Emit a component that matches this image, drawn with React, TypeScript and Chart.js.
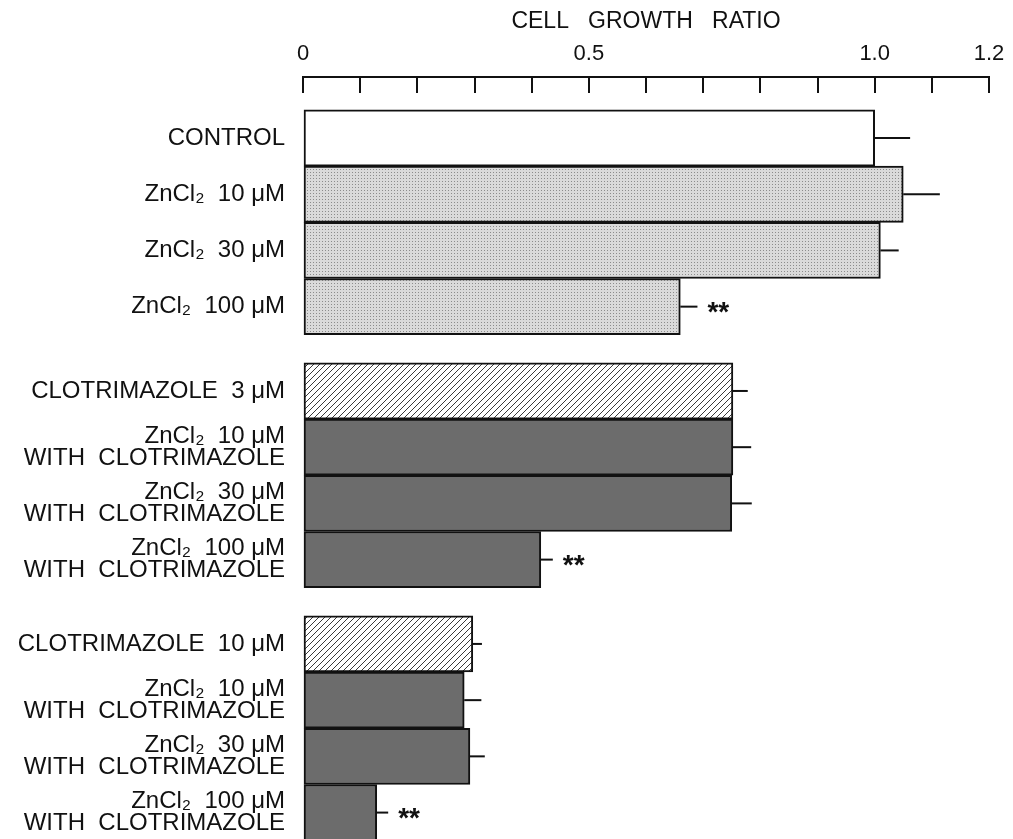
import React, { useEffect, useRef } from 'react';
import { Chart, registerables } from 'chart.js';

Chart.register(...registerables);

const FONT = '"Liberation Sans", Arial, Helvetica, sans-serif';

const categories: (string | string[])[] = [
  'CONTROL',
  'ZnCl₂  10 μM',
  'ZnCl₂  30 μM',
  'ZnCl₂  100 μM',
  'CLOTRIMAZOLE  3 μM',
  ['ZnCl₂  10 μM', 'WITH  CLOTRIMAZOLE'],
  ['ZnCl₂  30 μM', 'WITH  CLOTRIMAZOLE'],
  ['ZnCl₂  100 μM', 'WITH  CLOTRIMAZOLE'],
  'CLOTRIMAZOLE  10 μM',
  ['ZnCl₂  10 μM', 'WITH  CLOTRIMAZOLE'],
  ['ZnCl₂  30 μM', 'WITH  CLOTRIMAZOLE'],
  ['ZnCl₂  100 μM', 'WITH  CLOTRIMAZOLE'],
];

// row slots on the category (y) axis; groups separated by half a slot
const rowPositions = [0, 1, 2, 3, 4.5, 5.5, 6.5, 7.5, 9, 10, 11, 12];

const growthRatio = [1.0, 1.05, 1.01, 0.66, 0.752, 0.752, 0.75, 0.416, 0.297, 0.282, 0.292, 0.129];
const errorValues = [0.062, 0.064, 0.032, 0.03, 0.026, 0.032, 0.035, 0.021, 0.016, 0.03, 0.026, 0.02];
const significance = ['', '', '', '**', '', '', '', '**', '', '', '', '**'];
const fillKinds = ['white', 'stipple', 'stipple', 'stipple', 'hatch', 'dark', 'dark', 'dark', 'hatch', 'dark', 'dark', 'dark'];

const xTickValues = [0, 0.5, 1.0, 1.2];
const xTickLabels = ['0', '0.5', '1.0', '1.2'];

function makeStipple(ctx: CanvasRenderingContext2D): CanvasPattern | string {
  const c = document.createElement('canvas');
  c.width = 3;
  c.height = 3;
  const g = c.getContext('2d')!;
  g.fillStyle = '#dadada';
  g.fillRect(0, 0, 3, 3);
  g.fillStyle = '#8c8c8c';
  g.fillRect(1, 1, 1, 1);
  return ctx.createPattern(c, 'repeat') || '#d0d0d0';
}

function makeHatch(ctx: CanvasRenderingContext2D): CanvasPattern | string {
  const s = 6;
  const c = document.createElement('canvas');
  c.width = s;
  c.height = s;
  const g = c.getContext('2d')!;
  g.fillStyle = '#ffffff';
  g.fillRect(0, 0, s, s);
  g.strokeStyle = '#3a3a3a';
  g.lineWidth = 1;
  g.beginPath();
  g.moveTo(-1, s + 1);
  g.lineTo(s + 1, -1);
  g.moveTo(-1, 1);
  g.lineTo(1, -1);
  g.moveTo(s - 1, s + 1);
  g.lineTo(s + 1, s - 1);
  g.stroke();
  return ctx.createPattern(c, 'repeat') || '#dddddd';
}

const errorBarPlugin = {
  id: 'errorBarsAndStars',
  afterDatasetsDraw(chart: any) {
    const { ctx } = chart;
    const xs = chart.scales.x;
    const meta = chart.getDatasetMeta(0);
    ctx.save();
    ctx.strokeStyle = '#111111';
    ctx.lineWidth = 2;
    meta.data.forEach((el: any, i: number) => {
      const x0 = xs.getPixelForValue(growthRatio[i]);
      const x1 = xs.getPixelForValue(growthRatio[i] + errorValues[i]);
      const y = el.y;
      ctx.beginPath();
      ctx.moveTo(x0, y);
      ctx.lineTo(x1, y);
      ctx.stroke();
      if (significance[i]) {
        ctx.font = `bold 28px ${FONT}`;
        ctx.fillStyle = '#111111';
        ctx.textAlign = 'left';
        ctx.textBaseline = 'alphabetic';
        ctx.fillText(significance[i], x1 + 10, y + 14);
      }
    });
    ctx.restore();
  },
};

export default function App() {
  const canvasRef = useRef<HTMLCanvasElement | null>(null);

  useEffect(() => {
    const canvas = canvasRef.current;
    if (!canvas) return;
    const ctx = canvas.getContext('2d')!;
    const stipple = makeStipple(ctx);
    const hatch = makeHatch(ctx);
    const fills: Record<string, any> = {
      white: '#ffffff',
      stipple,
      hatch,
      dark: '#6c6c6c',
    };

    const chart = new Chart(canvas, {
      type: 'bar',
      data: {
        datasets: [
          {
            data: rowPositions.map((p, i) => ({ x: growthRatio[i], y: p })) as any,
            backgroundColor: fillKinds.map((k) => fills[k]),
            borderColor: '#111111',
            borderWidth: 2,
            borderSkipped: false,
            barPercentage: 1,
            categoryPercentage: 1,
          },
        ],
      },
      options: {
        indexAxis: 'y',
        responsive: false,
        animation: false,
        layout: { padding: { left: 0, right: 24, top: 0, bottom: 0 } },
        plugins: {
          legend: { display: false },
          tooltip: { enabled: false },
        },
        scales: {
          x: {
            type: 'linear',
            position: 'top',
            min: 0,
            max: 1.2,
            afterFit: (scale: any) => {
              scale.height = 77;
              scale.paddingLeft = 0;
              scale.paddingRight = 0;
            },
            grid: {
              display: true,
              drawOnChartArea: false,
              drawTicks: true,
              tickLength: -16,
              color: '#111111',
              lineWidth: 2,
            },
            border: { display: true, color: '#111111', width: 2 },
            ticks: {
              stepSize: 0.1,
              autoSkip: false,
              maxRotation: 0,
              padding: 26,
              color: '#111111',
              font: { family: FONT, size: 22 },
              callback: (value: any) => {
                const idx = xTickValues.findIndex((v) => Math.abs(v - Number(value)) < 1e-6);
                return idx >= 0 ? xTickLabels[idx] : '';
              },
            },
            title: {
              display: true,
              text: 'CELL   GROWTH   RATIO',
              color: '#111111',
              font: { family: FONT, size: 23 },
              padding: { top: 8, bottom: 0 },
            },
          },
          y: {
            type: 'linear',
            reverse: true,
            offset: false,
            min: -1.085,
            max: 12.47,
            afterFit: (scale: any) => {
              scale.width = 303;
              scale.paddingTop = 0;
              scale.paddingBottom = 0;
            },
            afterBuildTicks: (scale: any) => {
              scale.ticks = rowPositions.map((v) => ({ value: v }));
            },
            grid: { display: false, drawTicks: false, offset: false },
            border: { display: false },
            ticks: {
              autoSkip: false,
              padding: 18,
              color: '#111111',
              font: { family: FONT, size: 24, lineHeight: '22px' },
              callback: (value: any) => {
                const idx = rowPositions.indexOf(Number(value));
                return idx >= 0 ? (categories[idx] as any) : '';
              },
            },
          },
        },
      },
      plugins: [errorBarPlugin],
    });

    return () => {
      chart.destroy();
    };
  }, []);

  return (
    <div style={{ position: 'fixed', left: 0, top: 0, width: 1013, height: 839, background: '#ffffff' }}>
      <canvas ref={canvasRef} width={1013} height={839} style={{ display: 'block' }} />
    </div>
  );
}
